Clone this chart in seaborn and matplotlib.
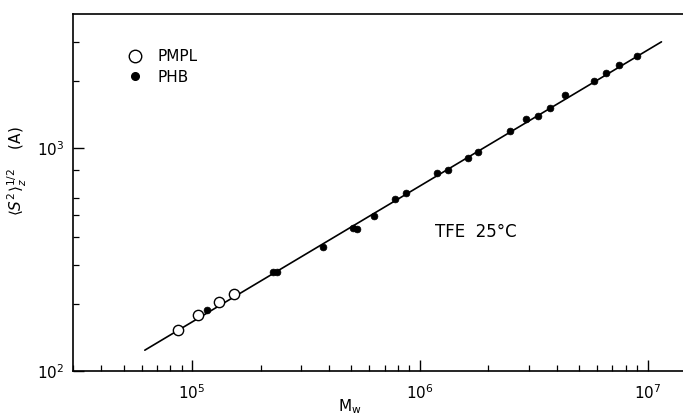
import numpy as np
import pandas as pd
import matplotlib
matplotlib.use("Agg")
import matplotlib.pyplot as plt
import matplotlib.ticker as mticker
from matplotlib.lines import Line2D
import seaborn as sns

# ---- data ----
pmpl_mw = [8.7e4, 1.066e5, 1.317e5, 1.523e5]
pmpl_s = [152, 178, 203, 222]

phb_mw = [1.16e5, 2.27e5, 2.37e5, 3.74e5, 5.10e5, 5.28e5, 6.29e5, 7.77e5, 8.66e5,
          1.19e6, 1.33e6, 1.63e6, 1.80e6, 2.48e6, 2.91e6, 3.31e6, 3.74e6, 4.33e6,
          5.82e6, 6.59e6, 7.46e6, 8.95e6]
phb_s = [188, 279, 277, 359, 436, 432, 496, 591, 632,
         771, 797, 900, 965, 1198, 1349, 1392, 1507, 1729,
         1997, 2165, 2357, 2605]

fit_mw = [6.2e4, 1.15e7]
fit_s = [124, 3000]

y_minor = [200, 300, 400, 500, 600, 800, 2000, 3000]

sns.set_style("ticks")
plt.rcParams['font.family'] = ['DejaVu Sans']
plt.rcParams['text.color'] = 'black'
plt.rcParams['axes.labelcolor'] = 'black'
plt.rcParams['xtick.color'] = 'black'
plt.rcParams['ytick.color'] = 'black'

fig = plt.figure(figsize=(6.83, 4.19), dpi=100)
ax = fig.add_axes([73/683, 1-371/419, 1-73/683, (371-14)/419])

fit_df = pd.DataFrame({"Mw": fit_mw, "S": fit_s})
sns.lineplot(data=fit_df, x="Mw", y="S", ax=ax, color="black", lw=1.2)

pm = pd.DataFrame({"Mw": pmpl_mw, "S": pmpl_s})
ph = pd.DataFrame({"Mw": phb_mw, "S": phb_s})
sns.scatterplot(data=pm, x="Mw", y="S", ax=ax, marker="o", s=55,
                facecolor="white", edgecolor="black", linewidth=1.0, zorder=3)
sns.scatterplot(data=ph, x="Mw", y="S", ax=ax, marker="o", s=24,
                color="black", edgecolor="black", linewidth=0.5, zorder=3)

ax.set_xscale("log")
ax.set_yscale("log")
ax.set_xlim(3e4, 1.43e7)
ax.set_ylim(100, 4000)

ax.yaxis.set_major_locator(mticker.FixedLocator([100, 1000]))
ax.yaxis.set_minor_locator(mticker.FixedLocator(y_minor))
ax.yaxis.set_minor_formatter(mticker.NullFormatter())
ax.xaxis.set_major_locator(mticker.LogLocator(base=10))
ax.xaxis.set_minor_locator(mticker.LogLocator(base=10, subs=np.arange(2, 10)))
ax.xaxis.set_minor_formatter(mticker.NullFormatter())

ax.tick_params(which="major", direction="in", length=8, width=1, labelsize=11, pad=9)
ax.tick_params(which="minor", direction="in", length=4.5, width=0.9)
ax.tick_params(axis="y", which="major", pad=6)

for side in ["left", "bottom", "top"]:
    ax.spines[side].set_visible(True)
    ax.spines[side].set_color("black")
    ax.spines[side].set_linewidth(1.2)
ax.spines["right"].set_visible(False)

ax.set_xlabel(r"M$_{\mathrm{w}}$", fontsize=11)
ax.set_ylabel(r"$\langle S^2\rangle_z^{1/2}$    (A)", fontsize=11)
ax.xaxis.set_label_coords((350-73)/610, -0.075)
ax.yaxis.set_label_coords(-0.072, 0.56)

ax.text(0.594, 0.39, "TFE  25°C", transform=ax.transAxes, fontsize=12,
        ha="left", va="center")

handles = [
    Line2D([], [], marker="o", ls="none", mfc="white", mec="black", ms=9, mew=1.0),
    Line2D([], [], marker="o", ls="none", mfc="black", mec="black", ms=5.5),
]
ax.legend(handles, ["PMPL", "PHB"], loc="upper left", bbox_to_anchor=(0.067, 0.94),
          frameon=False, fontsize=11, handletextpad=0.93, labelspacing=0.35,
          handlelength=1.0)

fig.savefig("out.png", dpi=100)
